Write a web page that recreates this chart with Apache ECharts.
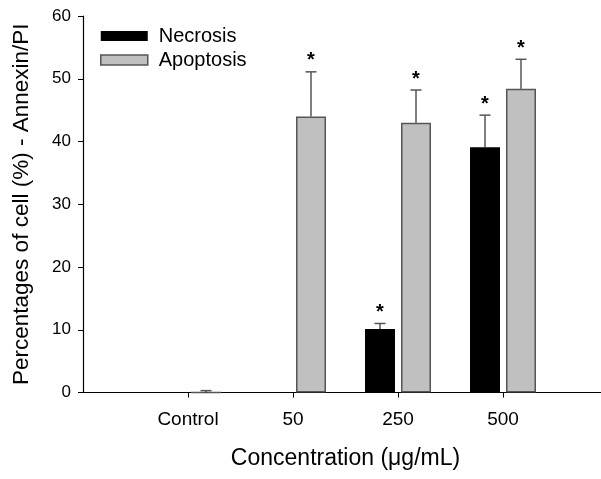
<!DOCTYPE html>
<html>
<head>
<meta charset="utf-8">
<script src="https://cdn.jsdelivr.net/npm/echarts@6/dist/echarts.min.js"></script>
<style>
html,body{margin:0;padding:0;background:#fff;}
#chart{width:601px;height:479px;}
</style>
</head>
<body>
<div id="chart"></div>
<script>
const categories = ['Control', '50', '250', '500'];
const necrosis = [0, 0, 10.1, 39.1];
const necrosisErr = [0, 0, 0.9, 5.1];
const necrosisSig = [0, 0, 1, 1];
const apoptosis = [0.0, 44.0, 43.0, 48.4];
const apoptosisErr = [0.3, 7.1, 5.2, 4.7];
const apoptosisSig = [0, 1, 1, 1];
const yTicks = [0, 10, 20, 30, 40, 50, 60];

const FONT = '"Liberation Sans", Arial, sans-serif';
const paddedCats = [''].concat(categories, ['']);
const pad = arr => ['-'].concat(arr, ['-']);

function errData(vals, errs, sig) {
  return vals.map((v, i) => [i + 1, v, errs[i], sig[i]]);
}

function makeErrRender(offset) {
  return function (params, api) {
    const idx = api.value(0);
    const v = api.value(1);
    const e = api.value(2);
    const s = api.value(3);
    const p0 = api.coord([idx, v]);
    const p1 = api.coord([idx, v + e]);
    const x = p0[0] + offset;
    const children = [];
    if (e > 0) {
      children.push({
        type: 'line',
        shape: { x1: x, y1: p0[1], x2: x, y2: p1[1] },
        style: { stroke: '#000', lineWidth: 1 }
      });
      children.push({
        type: 'line',
        shape: { x1: x - 5.5, y1: p1[1], x2: x + 5.5, y2: p1[1] },
        style: { stroke: '#555', lineWidth: 1.5 }
      });
    }
    if (s) {
      children.push({
        type: 'text',
        x: x,
        y: p1[1] - 1,
        style: {
          text: '*',
          font: 'bold 20px ' + FONT,
          fill: '#000',
          align: 'center',
          verticalAlign: 'bottom'
        }
      });
    }
    return { type: 'group', children: children };
  };
}

const chart = echarts.init(document.getElementById('chart'), null, { renderer: 'canvas' });
chart.setOption({
  animation: false,
  backgroundColor: '#fff',
  textStyle: { fontFamily: FONT },
  grid: { left: 83, width: 525, top: 16, height: 376.5, containLabel: false, outerBoundsMode: 'none' },
  legend: {
    orient: 'vertical',
    left: 100,
    top: 26,
    padding: 0,
    itemWidth: 47,
    itemHeight: 10,
    itemGap: 4,
    textStyle: { fontFamily: FONT, fontSize: 20, color: '#000', lineHeight: 20, padding: [0, 0, 0, 6] },
    data: [
      { name: 'Necrosis', icon: 'rect', itemStyle: { color: '#000', borderWidth: 0 } },
      { name: 'Apoptosis', icon: 'rect', itemStyle: { color: '#c0c0c0', borderColor: '#555', borderWidth: 1.5 } }
    ]
  },
  xAxis: {
    type: 'category',
    data: paddedCats,
    boundaryGap: false,
    name: 'Concentration (\u03bcg/mL)',
    nameLocation: 'middle',
    nameGap: 55,
    nameTextStyle: { fontFamily: FONT, fontSize: 23, color: '#000' },
    axisLine: { lineStyle: { color: '#000', width: 1.2 } },
    axisTick: {
      show: true,
      length: 5,
      interval: function (index) { return index >= 1 && index <= categories.length; },
      lineStyle: { color: '#000' }
    },
    axisLabel: { interval: 0, margin: 18, fontFamily: FONT, fontSize: 19, color: '#000' },
    splitLine: { show: false }
  },
  yAxis: {
    type: 'value',
    min: yTicks[0],
    max: yTicks[yTicks.length - 1],
    interval: yTicks[1] - yTicks[0],
    name: 'Percentages of cell (%) - Annexin/PI',
    nameLocation: 'middle',
    nameGap: 50,
    nameTextStyle: { fontFamily: FONT, fontSize: 22.5, color: '#000' },
    axisLine: { show: true, lineStyle: { color: '#000', width: 1.2 } },
    axisTick: { show: true, length: 5, lineStyle: { color: '#000' } },
    axisLabel: { margin: 12, fontFamily: FONT, fontSize: 17, color: '#000' },
    splitLine: { show: false }
  },
  series: [
    {
      name: 'Necrosis',
      type: 'bar',
      data: pad(necrosis),
      barWidth: 30,
      barGap: '20%',
      itemStyle: { color: '#000', borderWidth: 0 },
      z: 3
    },
    {
      name: 'Apoptosis',
      type: 'bar',
      data: pad(apoptosis),
      barWidth: 30,
      barGap: '20%',
      itemStyle: { color: '#c0c0c0', borderColor: '#555', borderWidth: 1.5 },
      z: 3
    },
    {
      name: 'NecrosisErr',
      type: 'custom',
      renderItem: makeErrRender(-18),
      data: errData(necrosis, necrosisErr, necrosisSig),
      encode: { x: 0, y: 1 },
      clip: false,
      z: 4,
      silent: true
    },
    {
      name: 'ApoptosisErr',
      type: 'custom',
      renderItem: makeErrRender(18),
      data: errData(apoptosis, apoptosisErr, apoptosisSig),
      encode: { x: 0, y: 1 },
      clip: false,
      z: 4,
      silent: true
    }
  ]
});
</script>
</body>
</html>
